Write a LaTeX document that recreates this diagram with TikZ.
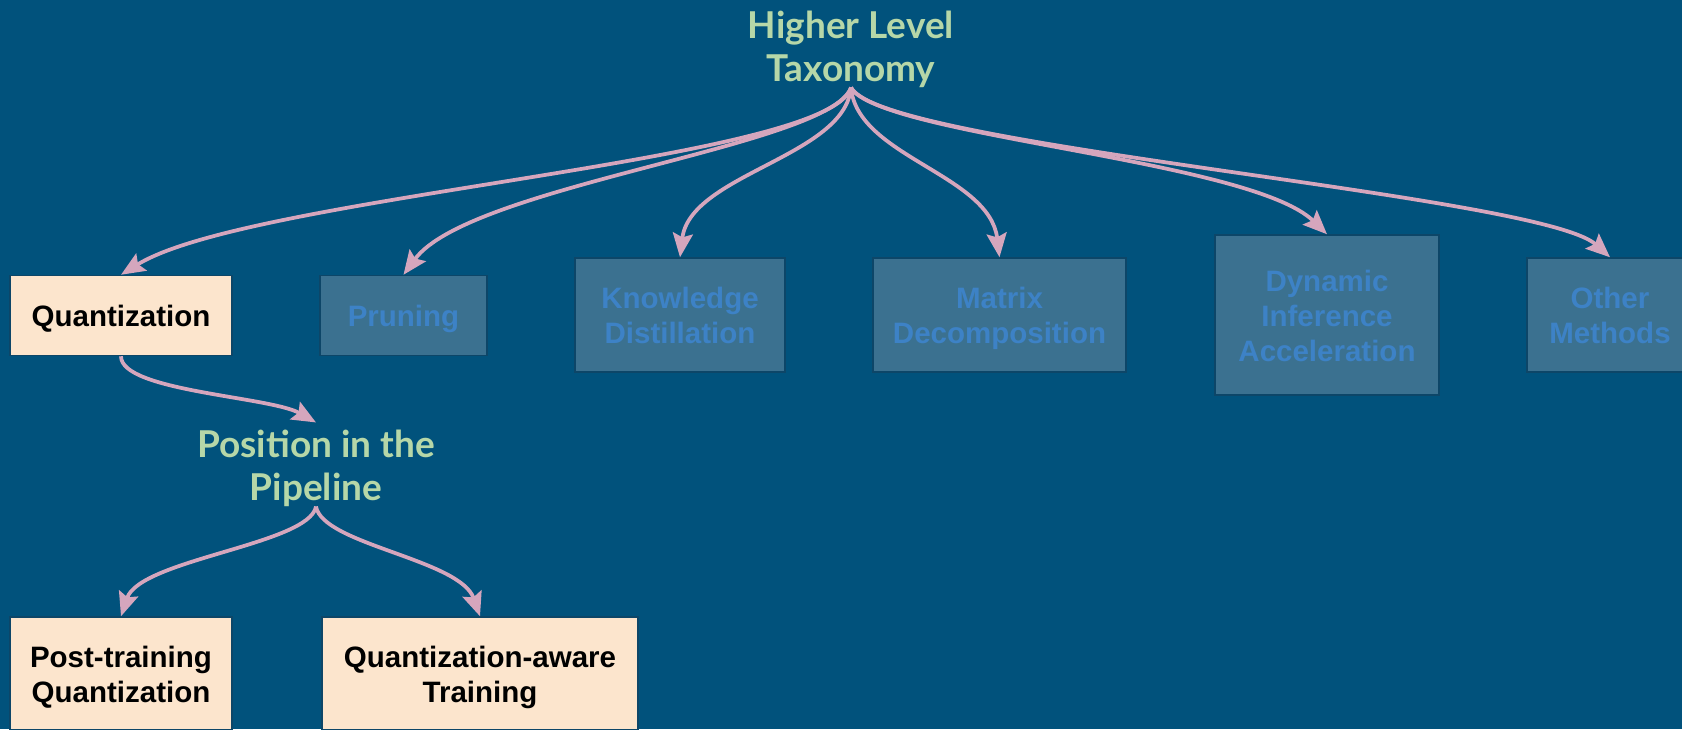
\documentclass[tikz,border=0pt]{standalone}
\usepackage{fontspec}
\setmainfont{Liberation Sans}
\newfontfamily\headfont{Lato}
\usetikzlibrary{arrows.meta}

\definecolor{canvas}{HTML}{01527C}
\definecolor{peach}{HTML}{FCE5CD}
\definecolor{dimfill}{HTML}{3B7190}
\definecolor{dimtext}{HTML}{3D82C6}
\definecolor{boxline}{HTML}{0D4668}
\definecolor{pinkline}{HTML}{D5A6BD}
\definecolor{headgreen}{HTML}{B6D7A8}

% fixed ascent for the first line of every box label
\newcommand\tallline{\rule{0pt}{29.5pt}}

\begin{document}
\begin{tikzpicture}[x=1pt,y=-1pt,
  box/.style={draw=boxline, line width=1.5pt, inner sep=0pt, align=center,
              font=\fontsize{29.5}{35}\selectfont\bfseries,
              execute at end node={\rule[-7pt]{0pt}{7pt}}},
  active/.style={box, fill=peach, text=black},
  muted/.style={box, fill=dimfill, text=dimtext},
  heading/.style={inner sep=0pt, align=center, text=headgreen,
                  font=\headfont\fontsize{37}{43}\selectfont\bfseries},
  arc/.style={draw=pinkline, line width=3.75pt,
              -{Stealth[length=24pt,width=20pt,inset=4pt]}}
]
\clip (0,0) rectangle (1682,729);
\fill[canvas] (0,0) rectangle (1682,729);

% headings
\node[heading] (title) at (851,49) {Higher Level\\Taxonomy};
\node[heading] (pipe) at (316,468) {Position in the\\Pipeline};

% first level: method families
\node[active, minimum width=222, minimum height=80] (quant) at (121,315.5) {\tallline Quantization};
\node[muted, minimum width=167, minimum height=80] (prune) at (403.5,315.5) {\tallline Pruning};
\node[muted, minimum width=210, minimum height=114] (know) at (680,315) {\tallline Knowledge\\Distillation};
\node[muted, minimum width=253, minimum height=114] (matrix) at (999.5,315) {\tallline Matrix\\Decomposition};
\node[muted, minimum width=224, minimum height=160] (dyn) at (1327,315) {\tallline Dynamic\\Inference\\Acceleration};
\node[muted, minimum width=166, minimum height=114] (other) at (1610,315) {\tallline Other\\Methods};

% second level: quantization by pipeline position
\node[active, minimum width=222, minimum height=113] (ptq) at (121,673.5) {\tallline Post-training\\Quantization};
\node[active, minimum width=316, minimum height=113] (qat) at (480,673.5) {\tallline Quantization-aware\\Training};

% fan-out from the taxonomy heading
\draw[arc] (title.south) .. controls +(-21,74) and +(129,-80) .. (quant.north);
\draw[arc] (title.south) .. controls +(-21,59) and +(66,-90) .. (prune.north);
\draw[arc] (title.south) .. controls +(-6,69) and +(10,-83) .. (know.north);
\draw[arc] (title.south) .. controls +(6,69) and +(-10,-83) .. (matrix.north);
\draw[arc] (title.south) .. controls +(29,49) and +(-77,-75) .. (dyn.north);
\draw[arc] (title.south) .. controls +(29,59) and +(-70,-63) .. (other.north);

% quantization branch
\draw[arc] (quant.south) .. controls +(0,35) and +(-46,-26) .. ([yshift=7pt]pipe.north);
\draw[arc] (pipe.south) .. controls +(-7,38) and +(19,-57) .. (ptq.north);
\draw[arc] (pipe.south) .. controls +(7,38) and +(-20,-57) .. (qat.north);
\end{tikzpicture}
\end{document}
